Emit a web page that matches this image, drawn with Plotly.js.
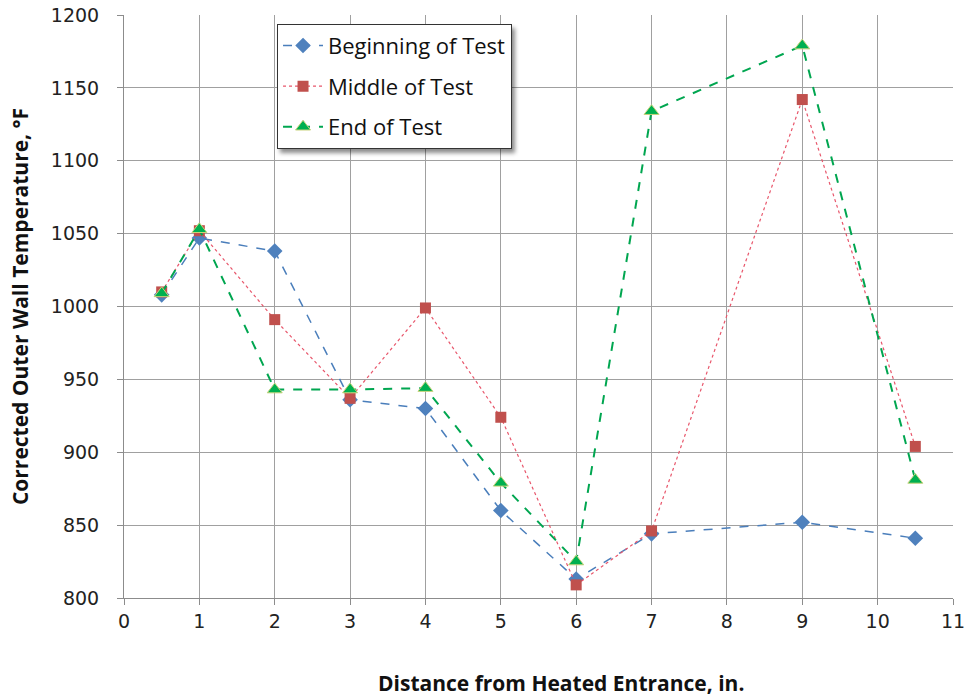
<!DOCTYPE html>
<html>
<head>
<meta charset="utf-8">
<script src="https://cdn.plot.ly/plotly-3.0.1.min.js"></script>
<style>html,body{margin:0;padding:0;background:#fff;}#chart{width:971px;height:698px;}
.legend .bg{filter:drop-shadow(3px 4px 2px rgba(0,0,0,0.45));}</style>
</head>
<body>
<div id="chart"></div>
<script>
const distance = [0.5, 1, 2, 3, 4, 5, 6, 7, 9, 10.5];
const beginning = [1008, 1047, 1038, 936, 930, 860, 813, 844, 852, 841];
const middle = [1010, 1052, 991, 937, 999, 924, 809, 846, 1142, 904];
const endTest = [1009, 1053, 943, 943, 944, 879, 825, 1134, 1179, 881];
const seriesNames = ["Beginning of Test", "Middle of Test", "End of Test"];
const xTitle = "Distance from Heated Entrance, in.";
const yTitle = "Corrected Outer Wall Temperature, °F";

const traces = [
  {x: distance, y: beginning, name: seriesNames[0], mode: "lines+markers", legendgroup: "a",
   line: {color: "#4a7ebb", width: 1.5, dash: "dash"},
   marker: {symbol: "diamond", size: 12, color: "#4f81bd"}},
  {x: distance, y: middle, name: seriesNames[1], mode: "lines+markers", legendgroup: "b",
   line: {color: "#e8566b", width: 1.2, dash: "dot"},
   marker: {symbol: "square", size: 11, color: "#c0504d"}},
  {x: distance, y: endTest, name: seriesNames[2], mode: "lines+markers", legendgroup: "c",
   line: {color: "#00a650", width: 2, dash: "dash"},
   marker: {symbol: "triangle-up", size: 13, color: "#00b050", line: {color: "#c8d27a", width: 1}}}
];

const tickFont = {family: "DejaVu Sans, sans-serif", size: 19, color: "#222"};
const layout = {
  width: 971, height: 698,
  margin: {l: 124, r: 18, t: 15, b: 100},
  paper_bgcolor: "#fff", plot_bgcolor: "#fff",
  showlegend: true,
  xaxis: {range: [0, 11], dtick: 1, tick0: 0, showgrid: true, gridcolor: "#a0a0a0", gridwidth: 1,
    showline: true, linecolor: "#8c8c8c", ticks: "outside", ticklen: 6, tickcolor: "#8c8c8c",
    zeroline: false, tickfont: tickFont, fixedrange: true},
  yaxis: {range: [800, 1200], dtick: 50, tick0: 800, showgrid: true, gridcolor: "#a0a0a0", gridwidth: 1,
    showline: true, linecolor: "#8c8c8c", ticks: "outside", ticklen: 6, tickcolor: "#8c8c8c",
    zeroline: false, tickfont: tickFont, ticklabelstandoff: 14, fixedrange: true,
    title: {text: yTitle, font: {family: "Open Sans, sans-serif", size: 21, color: "#111", weight: "bold"}, standoff: 16}},
  annotations: [
    {text: xTitle, xref: "paper", yref: "paper", x: 0.527, y: -0.145, xanchor: "center", yanchor: "middle",
     showarrow: false, font: {family: "Open Sans, sans-serif", size: 21, color: "#111", weight: "bold"}}
  ],
  legend: {x: 0.1846, y: 0.985, xanchor: "left", yanchor: "top",
    bgcolor: "#fff", bordercolor: "#333", borderwidth: 1,
    font: {family: "Open Sans, sans-serif", size: 22, color: "#111"},
    traceorder: "grouped", tracegroupgap: 9, itemwidth: 40}
};
Plotly.newPlot("chart", traces, layout, {displayModeBar: false, staticPlot: true});
</script>
</body>
</html>
